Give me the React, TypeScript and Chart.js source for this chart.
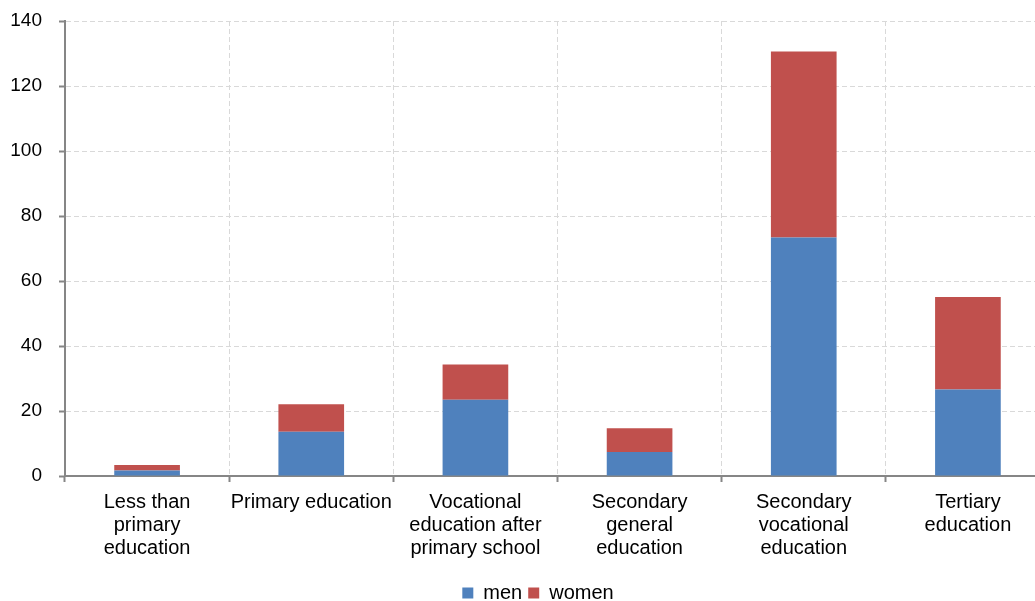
import React, { useEffect, useRef } from "react";
import { Chart, registerables } from "chart.js";

Chart.register(...registerables);

const categories: string[][] = [
  ["Less than", "primary", "education"],
  ["Primary education"],
  ["Vocational", "education after", "primary school"],
  ["Secondary", "general", "education"],
  ["Secondary", "vocational", "education"],
  ["Tertiary", "education"],
];
const menValues = [1.7, 13.6, 23.5, 7.4, 73.4, 26.6];
const womenValues = [1.7, 8.5, 10.8, 7.3, 57.2, 28.5];
const yTicks = [0, 20, 40, 60, 80, 100, 120, 140];

const FONT = "Arial, 'Liberation Sans', sans-serif";
const AXIS = "#868686";
const GRID = "#d9d9d9";

const shiftLegend = {
  id: "shiftLegend",
  afterUpdate(chart: any) {
    if (chart.legend) chart.legend.left += 26;
  },
};

export default function App() {
  const ref = useRef<HTMLCanvasElement | null>(null);
  useEffect(() => {
    document.body.style.overflow = "hidden";
    const chart = new Chart(ref.current!, {
      type: "bar",
      data: {
        labels: categories,
        datasets: [
          { label: "men", data: menValues, backgroundColor: "#4F81BD", borderWidth: 0 },
          { label: "women", data: womenValues, backgroundColor: "#C0504D", borderWidth: 0 },
        ],
      },
      plugins: [shiftLegend],
      options: {
        animation: false,
        responsive: false,
        maintainAspectRatio: false,
        layout: { padding: { top: 21, right: 0, bottom: 0, left: 0 } },
        datasets: { bar: { categoryPercentage: 1, barPercentage: 0.4 } },
        plugins: {
          tooltip: { enabled: false },
          legend: {
            position: "bottom",
            labels: {
              boxWidth: 11,
              boxHeight: 11,
              padding: 6,
              color: "#000",
              font: { family: FONT, size: 20 },
            },
          },
        },
        scales: {
          x: {
            stacked: true,
            grid: {
              color: GRID,
              offset: true,
              drawTicks: true,
              tickLength: 6,
              tickColor: AXIS,
              tickWidth: 2,
            },
            border: { display: true, color: AXIS, width: 2, dash: [5, 3] },
            ticks: {
              color: "#000",
              font: { family: FONT, size: 20, lineHeight: 1.15 },
              padding: 9,
              maxRotation: 0,
              autoSkip: false,
            },
            afterFit: (s: any) => {
              s.height = 101;
            },
          },
          y: {
            stacked: true,
            min: 0,
            max: 140,
            afterBuildTicks: (s: any) => {
              s.ticks = yTicks.map((v) => ({ value: v }));
            },
            grid: {
              color: GRID,
              drawTicks: true,
              tickLength: 6,
              tickColor: AXIS,
              tickWidth: 2,
            },
            border: { display: true, color: AXIS, width: 2, dash: [5, 3] },
            ticks: {
              color: "#000",
              font: { family: FONT, size: 19 },
              padding: 17,
            },
            afterFit: (s: any) => {
              s.width = 65;
              s.paddingTop = 0;
              s.paddingBottom = 0;
            },
          },
        },
      },
    });
    return () => chart.destroy();
  }, []);
  return (
    <div style={{ position: "fixed", left: 0, top: 0, width: 1050, height: 613 }}>
      <canvas ref={ref} width={1050} height={613} style={{ width: 1050, height: 613 }} />
    </div>
  );
}
